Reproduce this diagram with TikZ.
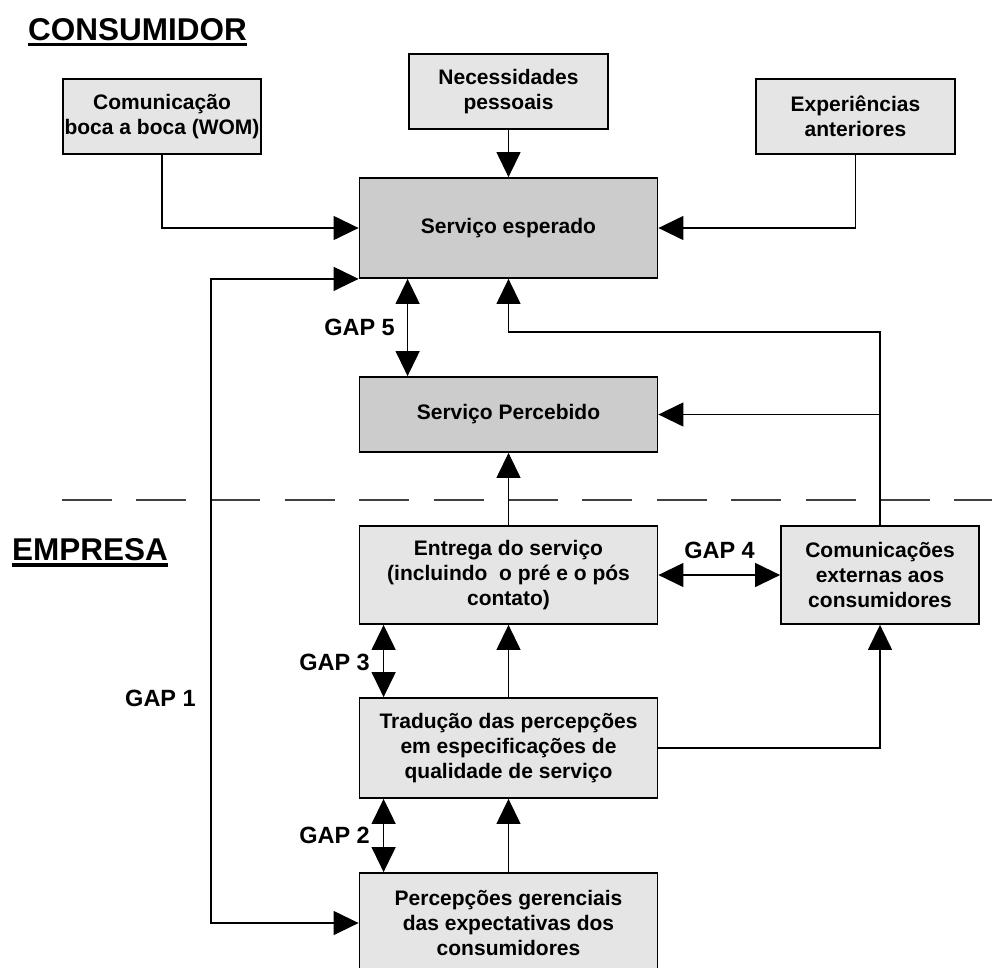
\documentclass[tikz,border=0pt]{standalone}
\usepackage{fontspec}
\setmainfont{Liberation Sans}
\usetikzlibrary{arrows.meta}
\definecolor{boxlight}{gray}{0.90}
\definecolor{boxdark}{gray}{0.80}

\begin{document}
\begin{tikzpicture}[x=1pt,y=-1pt,
  box/.style={draw, line width=1.8pt, fill=boxlight, align=center, inner sep=0pt,
    font=\fontsize{21}{25}\selectfont\bfseries, minimum width=298pt, minimum height=100pt},
  darkbox/.style={box, fill=boxdark},
  tip/.tip={Triangle[length=25pt,width=24pt]},
  arr/.style={line width=1.3pt, -tip},
  dbl/.style={line width=1.3pt, tip-tip},
  gaplabel/.style={inner sep=0pt, font=\fontsize{23.5}{26}\selectfont\bfseries},
  section/.style={inner sep=0pt, anchor=base west, font=\fontsize{31.5}{34}\selectfont\bfseries},
  rule/.style={line width=3.8pt},
  divider/.style={line width=1.3pt, black!75, dash pattern=on 50pt off 24.4pt}
]
\useasboundingbox (0,0) rectangle (992,967);
\clip (0,0) rectangle (992,967);

% section titles
\node[section] (cons) at (28,40) {CONSUMIDOR};
\draw[rule] ([yshift=-4.5pt]cons.base west) -- ([yshift=-4.5pt]cons.base east);
\node[section] (emp) at (12,560) {EMPRESA};
\draw[rule] ([yshift=-5pt]emp.base west) -- ([yshift=-5pt]emp.base east);

% divider between consumer and company
\coordinate (dl1) at (61.6,500);
\coordinate (dl2) at (992,500);
\draw[divider] (dl1) -- (dl2);

% boxes
\node[box, minimum width=198pt, minimum height=75pt] (wom) at (162,116.5) {Comunicação\\boca a boca (WOM)};
\node[box, minimum width=199pt, minimum height=75pt] (nec) at (508.5,91.5) {Necessidades\\pessoais};
\node[box, minimum width=199pt, minimum height=75pt] (exp) at (855.5,116.5) {Experiências\\anteriores};
\node[darkbox] (esp) at (508.5,228) {Serviço esperado};
\node[darkbox, minimum height=75pt] (per) at (508.5,414.5) {Serviço Percebido};
\node[box, minimum height=98pt] (ent) at (508.5,575) {Entrega do serviço\\(incluindo\ \ o pré e o pós\\contato)};
\node[box, minimum width=198pt, minimum height=98pt] (com) at (880,575) {Comunicações\\externas aos\\consumidores};
\node[box] (tra) at (508.5,748) {Tradução das percepções\\em especificações de\\qualidade de serviço};
\node[box] (pge) at (508.5,923) {Percepções gerenciais\\das expectativas dos\\consumidores};

% inputs to the expected service
\draw[arr] (wom.south) |- (esp.west);
\draw[arr] (nec.south) -- (esp.north);
\draw[arr] (exp.south) |- (esp.east);

% external communications feed expected and perceived service
\coordinate (jn) at (880,332);
\draw[arr] (com.north) -- (jn) -| (esp.south);
\draw[arr] (jn |- per.east) -- (per.east);

% company chain
\draw[arr] (ent.north) -- (per.south);
\draw[arr] (tra.north) -- (ent.south);
\draw[arr] (pge.north) -- (tra.south);
\draw[arr] (tra.east) -| (com.south);

% gaps
\coordinate (g1a) at (esp.south west -| 211,0);
\coordinate (g1b) at (pge.west -| 211,0);
\draw[dbl] (esp.south west) -- (g1a) -- (g1b) -- (pge.west);
\node[gaplabel] (gap1) at (160.5,698) {GAP 1};

\draw[dbl] ([xshift=25pt]tra.south west) -- ([xshift=25pt]pge.north west);
\node[gaplabel, anchor=east] (gap2) at (370,835) {GAP 2};

\draw[dbl] ([xshift=25pt]ent.south west) -- ([xshift=25pt]tra.north west);
\node[gaplabel, anchor=east] (gap3) at (370,662) {GAP 3};

\draw[dbl] (ent.east) -- (com.west);
\node[gaplabel] (gap4) at (719.5,550) {GAP 4};

\draw[dbl] ([xshift=49pt]esp.south west) -- ([xshift=49pt]per.north west);
\node[gaplabel, anchor=east] (gap5) at (395,327) {GAP 5};
\end{tikzpicture}
\end{document}
